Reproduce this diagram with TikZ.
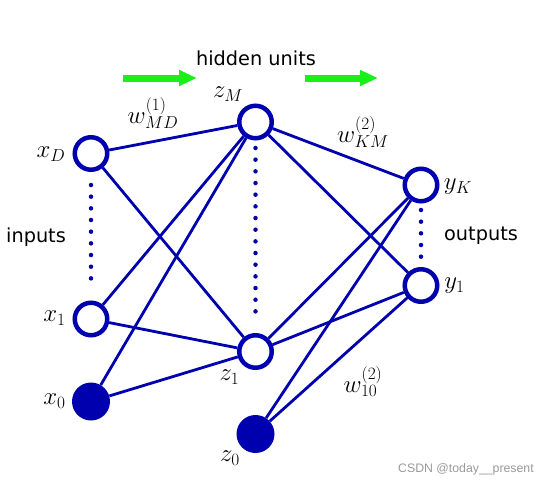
\documentclass[tikz,border=0pt]{standalone}
\usepackage{fontspec}
\newfontfamily\wmfont{Liberation Sans}
\newfontfamily\labfont{DejaVu Sans}
\usetikzlibrary{arrows.meta,backgrounds}
\definecolor{nnblue}{RGB}{0,0,175}
\definecolor{arrgreen}{RGB}{25,240,25}
\begin{document}
\begin{tikzpicture}[x=1pt,y=-1pt,
  unit/.style={circle,draw=nnblue,line width=4.5pt,fill=white,minimum size=32.5pt,inner sep=0pt},
  bias/.style={circle,fill=nnblue,minimum size=38pt,inner sep=0pt},
  conn/.style={draw=nnblue,line width=2.8pt},
  dotline/.style={draw=nnblue,line width=4.5pt,line cap=round,dash pattern=on 0pt off 11.67pt},
  lab/.style={font=\fontsize{24}{28}\selectfont,inner sep=0pt},
  txt/.style={font=\labfont\fontsize{19.3}{23}\selectfont,inner sep=0pt},
  flow/.style={draw=arrgreen,line width=7pt,-{Triangle[length=18pt,width=15pt]}}]
\useasboundingbox (0,0) rectangle (550,485);
% units
\node[unit] (xD) at (91,153.5) {};
\node[unit] (x1) at (91,319) {};
\node[bias] (x0) at (91,401.5) {};
\node[unit] (zM) at (255.5,122) {};
\node[unit] (z1) at (255.5,351.5) {};
\node[bias] (z0) at (255.5,434) {};
\node[unit] (yK) at (421,185) {};
\node[unit] (y1) at (421,285.5) {};
% connections
\begin{pgfonlayer}{background}
\foreach \a in {xD,x1,x0} \foreach \b in {zM,z1} \draw[conn] (\a) -- (\b);
\foreach \a in {zM,z1,z0} \foreach \b in {yK,y1} \draw[conn] (\a) -- (\b);
\end{pgfonlayer}
% dotted
\draw[dotline,shorten <=13pt,shorten >=10.5pt] (xD.south) -- (x1.north);
\draw[dotline,shorten <=7.5pt,shorten >=10pt] (zM.south) -- (z1.north);
\draw[dotline,shorten <=6.5pt,shorten >=10pt] (yK.south) -- (y1.north);
% labels
\node[lab] (lxD) at (51,154.5) {$x_D$};
\node[lab] (lx1) at (54.5,318) {$x_1$};
\node[lab] (lx0) at (54.5,401) {$x_0$};
\node[lab] (lzM) at (228,94) {$z_M$};
\node[lab] (lz1) at (229.5,377) {$z_1$};
\node[lab] (lz0) at (230,458) {$z_0$};
\node[lab] (lyK) at (458,187) {$y_K$};
\node[lab] (ly1) at (454.5,286) {$y_1$};
\node[lab] (w1) at (153,113) {$w^{(1)}_{MD}$};
\node[lab] (w2) at (363,132) {$w^{(2)}_{KM}$};
\node[lab] (w3) at (363,382) {$w^{(2)}_{10}$};
\node[txt,anchor=base] (hid) at (256,65) {hidden units};
\node[txt,anchor=base] (inp) at (36,242) {inputs};
\node[txt,anchor=base] (outp) at (481,240) {outputs};
% arrows
\coordinate (a1s) at (123,78);
\coordinate (a1e) at (197,78);
\coordinate (a2s) at (305,78);
\coordinate (a2e) at (378,78);
\draw[flow] (a1s) -- (a1e);
\draw[flow] (a2s) -- (a2e);
% watermark
\node[font=\wmfont\fontsize{12.3}{14}\selectfont,text=gray!80,inner sep=0pt] (wm) at (466,469) {CSDN @today\_\_present};
\end{tikzpicture}
\end{document}
